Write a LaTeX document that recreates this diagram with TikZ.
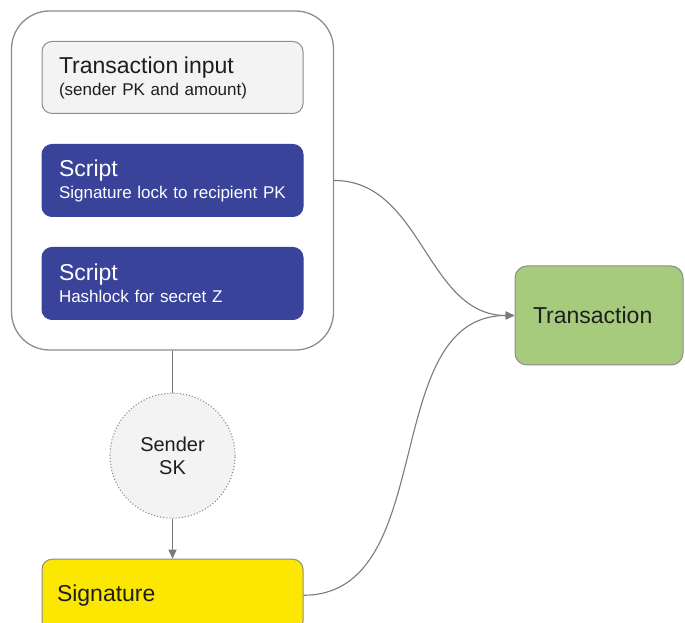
\documentclass[tikz,border=0pt]{standalone}
\usepackage{fontspec}
\setmainfont{Liberation Sans}
\usepackage{xcolor}
\usepackage{tikz}
\usetikzlibrary{positioning, calc, fit, arrows.meta}

\definecolor{ScriptBlue}{HTML}{39439A}
\definecolor{TxGreen}{HTML}{A6CB7D}
\definecolor{SigYellow}{HTML}{FBE700}
\definecolor{BoxGray}{HTML}{F3F3F3}
\definecolor{EdgeGray}{HTML}{8C8C8C}
\definecolor{LineGray}{HTML}{7A7A7A}
\definecolor{TextDark}{HTML}{1E1E1E}

\newcommand{\BigLine}[1]{{\fontsize{23}{26}\selectfont #1}}

\begin{document}
\begin{tikzpicture}[x=1pt, y=1pt,
					BoxNode/.style={rectangle, rounded corners=10pt, draw=EdgeGray, line width=1pt, minimum width=261pt, minimum height=72pt, text width=227pt, inner xsep=17pt, align=left, font=\fontsize{17}{22}\selectfont},
					InputNode/.style={BoxNode, fill=BoxGray, text=TextDark},
					ScriptNode/.style={BoxNode, fill=ScriptBlue, draw=ScriptBlue, text=white},
					SigNode/.style={BoxNode, fill=SigYellow, text=TextDark, inner xsep=15pt, text width=231pt, font=\fontsize{23}{26}\selectfont},
					TxNode/.style={rectangle, rounded corners=12pt, draw=EdgeGray, line width=1pt, fill=TxGreen, text=TextDark, minimum width=168pt, minimum height=99pt, text width=132pt, inner xsep=18pt, align=left, font=\fontsize{23}{26}\selectfont},
					KeyNode/.style={circle, dotted, draw=EdgeGray, line width=1.1pt, fill=BoxGray, text=TextDark, minimum size=125pt, align=center, font=\fontsize{20}{23}\selectfont},
					Frame/.style={rectangle, rounded corners=38pt, draw=EdgeGray, line width=1.3pt, inner sep=30pt},
					Link/.style={draw=LineGray, line width=1.1pt},
					Tip/.style={-{Triangle[length=9pt, width=8pt]}}]

				\useasboundingbox (0, 0) rectangle (685, 623);

				\node[InputNode] (TxInput) at (172.5, 545.5) {\BigLine{Transaction input}\\(sender PK and amount)};
				\node[ScriptNode, below=30pt of TxInput] (ScriptPK) {\BigLine{Script}\\Signature lock to recipient PK};
				\node[ScriptNode, below=30pt of ScriptPK] (ScriptZ) {\BigLine{Script}\\Hashlock for secret Z};
				\node[Frame, fit=(TxInput)(ScriptZ)] (Wallet) {};

				\node[KeyNode, below=42pt of Wallet] (SenderSK) {Sender\\SK};
				\node[SigNode, below=40pt of SenderSK] (Signature) {Signature};
				\node[TxNode] (Transaction) at (599, 307.5) {Transaction};

				\draw[Link] (Wallet) -- (SenderSK);
				\draw[Link, Tip] (SenderSK) -- (Signature);
				\draw[Link, Tip] (Wallet.east) to[out=0, in=180] (Transaction.west);
				\draw[Link, Tip] (Signature.east) to[out=0, in=180] (Transaction.west);
			\end{tikzpicture}
\end{document}
